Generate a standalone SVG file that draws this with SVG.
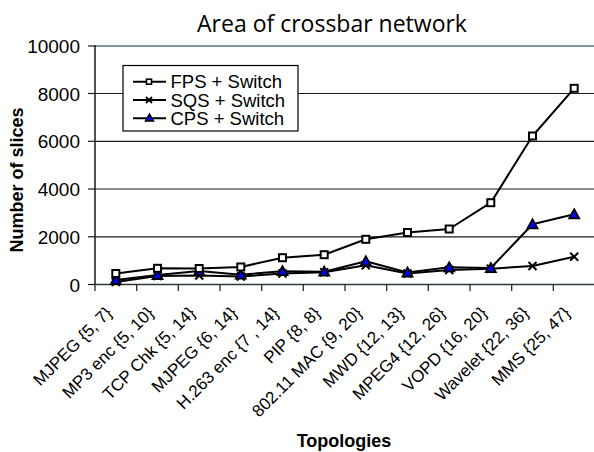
<svg xmlns="http://www.w3.org/2000/svg" width="594" height="452" viewBox="0 0 594 452">
<defs>
<style>
.grid{stroke:#1a1a1a;stroke-width:1.2}
.tick{stroke:#1a1a1a;stroke-width:1.2}
.ylab{font-family:"Liberation Sans",Arial,sans-serif;font-size:19px;fill:#000;text-anchor:end}
.xlab{font-family:"Liberation Sans",Arial,sans-serif;font-size:17px;fill:#000;text-anchor:end}
.atitle{font-family:"Liberation Sans",Arial,sans-serif;font-size:18px;font-weight:bold;fill:#000;text-anchor:middle}
.title{font-family:"Open Sans","Noto Sans",sans-serif;font-size:23px;fill:#000;text-anchor:middle}
.leg{font-family:"Liberation Sans",Arial,sans-serif;font-size:18.5px;fill:#000}
.series{fill:none;stroke:#000;stroke-width:2;stroke-linejoin:round}
</style>
<g id="msq"><rect x="-3.5" y="-3.5" width="7" height="7" fill="#fff" stroke="#000" stroke-width="2"/></g>
<g id="mx"><path d="M-4,-4L4,4M-4,4L4,-4" stroke="#000" stroke-width="2"/></g>
<g id="mtri"><path d="M0,-5L5,4L-5,4Z" fill="#0000ff" stroke="#000" stroke-width="1.8" stroke-linejoin="miter"/></g>
</defs>
<rect width="594" height="452" fill="#fff"/>

<text class="title" x="332" y="32">Area of crossbar network</text>

<g id="axes">
<line class="grid" x1="95" y1="93.5" x2="594" y2="93.5"/>
<line class="grid" x1="95" y1="141.3" x2="594" y2="141.3"/>
<line class="grid" x1="95" y1="189" x2="594" y2="189"/>
<line class="grid" x1="95" y1="236.8" x2="594" y2="236.8"/>
<line x1="95" y1="46" x2="594" y2="46" stroke="#7f9aa6" stroke-width="2"/>
<line x1="95" y1="45" x2="95" y2="285" stroke="#1a1a1a" stroke-width="1.5"/>
<line x1="94" y1="284.5" x2="594" y2="284.5" stroke="#2a3a40" stroke-width="1.6"/>
<g class="tick">
<line x1="88" y1="46" x2="95" y2="46"/>
<line x1="88" y1="93.5" x2="95" y2="93.5"/>
<line x1="88" y1="141.3" x2="95" y2="141.3"/>
<line x1="88" y1="189" x2="95" y2="189"/>
<line x1="88" y1="236.8" x2="95" y2="236.8"/>
<line x1="88" y1="284.5" x2="95" y2="284.5"/>
<line x1="95" y1="284.5" x2="95" y2="291"/>
<line x1="136.7" y1="284.5" x2="136.7" y2="291"/>
<line x1="178.3" y1="284.5" x2="178.3" y2="291"/>
<line x1="220" y1="284.5" x2="220" y2="291"/>
<line x1="261.7" y1="284.5" x2="261.7" y2="291"/>
<line x1="303.3" y1="284.5" x2="303.3" y2="291"/>
<line x1="345" y1="284.5" x2="345" y2="291"/>
<line x1="386.7" y1="284.5" x2="386.7" y2="291"/>
<line x1="428.3" y1="284.5" x2="428.3" y2="291"/>
<line x1="470" y1="284.5" x2="470" y2="291"/>
<line x1="511.7" y1="284.5" x2="511.7" y2="291"/>
<line x1="553.3" y1="284.5" x2="553.3" y2="291"/>
</g>
<text class="ylab" x="80" y="53">10000</text>
<text class="ylab" x="80" y="100.5">8000</text>
<text class="ylab" x="80" y="148.3">6000</text>
<text class="ylab" x="80" y="196">4000</text>
<text class="ylab" x="80" y="243.8">2000</text>
<text class="ylab" x="80" y="291.5">0</text>
<text class="atitle" transform="translate(23,180) rotate(-90)">Number of slices</text>
<text class="atitle" x="344" y="447">Topologies</text>
<g id="xlabels">
<text class="xlab" transform="translate(113,314) rotate(-45)">MJPEG {5, 7}</text>
<text class="xlab" transform="translate(154.7,314) rotate(-45)">MP3 enc {5, 10}</text>
<text class="xlab" transform="translate(196.3,314) rotate(-45)">TCP Chk {5, 14}</text>
<text class="xlab" transform="translate(238,314) rotate(-45)">MJPEG {6, 14}</text>
<text class="xlab" transform="translate(279.7,314) rotate(-45)">H.263 enc {7 , 14}</text>
<text class="xlab" transform="translate(321.3,314) rotate(-45)">PIP {8, 8}</text>
<text class="xlab" transform="translate(363,314) rotate(-45)">802.11 MAC {9, 20}</text>
<text class="xlab" transform="translate(404.7,314) rotate(-45)">MWD {12, 13}</text>
<text class="xlab" transform="translate(446.3,314) rotate(-45)">MPEG4 {12, 26}</text>
<text class="xlab" transform="translate(488,314) rotate(-45)">VOPD {16, 20}</text>
<text class="xlab" transform="translate(529.7,314) rotate(-45)">Wavelet {22, 36}</text>
<text class="xlab" transform="translate(571.3,314) rotate(-45)">MMS {25, 47}</text>
</g>
</g>

<g id="connectors">
<polyline id="sqs-line" class="series" points="115.8,282 157.5,276 199.2,275.5 240.8,276.5 282.5,273.5 324.2,272.3 365.8,265.3 407.5,273.5 449.2,270 490.8,268.7 532.5,266 574.2,256.7"/>
<polyline id="cps-line" class="series" points="115.8,280 157.5,275 199.2,271 240.8,274.7 282.5,271.2 324.2,271.7 365.8,261.3 407.5,272.5 449.2,267.3 490.8,268 532.5,224.3 574.2,214.3"/>
<polyline id="fps-line" class="series" points="115.8,273.5 157.5,268.3 199.2,268.5 240.8,267 282.5,257.7 324.2,254.7 365.8,239.3 407.5,232.5 449.2,229 490.8,202.7 532.5,136 574.2,88.3"/>
</g>

<g id="sqs-markers">
<use href="#mx" x="115.8" y="282"/><use href="#mx" x="157.5" y="276"/><use href="#mx" x="199.2" y="275.5"/><use href="#mx" x="240.8" y="276.5"/><use href="#mx" x="282.5" y="273.5"/><use href="#mx" x="324.2" y="272.3"/><use href="#mx" x="365.8" y="265.3"/><use href="#mx" x="407.5" y="273.5"/><use href="#mx" x="449.2" y="270"/><use href="#mx" x="490.8" y="268.7"/><use href="#mx" x="532.5" y="266"/><use href="#mx" x="574.2" y="256.7"/>
</g>
<g id="cps-markers">
<use href="#mtri" x="115.8" y="280"/><use href="#mtri" x="157.5" y="275"/><use href="#mtri" x="199.2" y="271"/><use href="#mtri" x="240.8" y="274.7"/><use href="#mtri" x="282.5" y="271.2"/><use href="#mtri" x="324.2" y="271.7"/><use href="#mtri" x="365.8" y="261.3"/><use href="#mtri" x="407.5" y="272.5"/><use href="#mtri" x="449.2" y="267.3"/><use href="#mtri" x="490.8" y="268"/><use href="#mtri" x="532.5" y="224.3"/><use href="#mtri" x="574.2" y="214.3"/>
</g>
<g id="fps-markers">
<use href="#msq" x="115.8" y="273.5"/><use href="#msq" x="157.5" y="268.3"/><use href="#msq" x="199.2" y="268.5"/><use href="#msq" x="240.8" y="267"/><use href="#msq" x="282.5" y="257.7"/><use href="#msq" x="324.2" y="254.7"/><use href="#msq" x="365.8" y="239.3"/><use href="#msq" x="407.5" y="232.5"/><use href="#msq" x="449.2" y="229"/><use href="#msq" x="490.8" y="202.7"/><use href="#msq" x="532.5" y="136"/><use href="#msq" x="574.2" y="88.3"/>
</g>

<g id="legend">
<rect x="123" y="65.5" width="175" height="65.5" fill="#fff" stroke="#000" stroke-width="1.2"/>
<line x1="133" y1="81.7" x2="166" y2="81.7" stroke="#000" stroke-width="2"/>
<rect x="146.5" y="79.2" width="5" height="5" fill="#fff" stroke="#000" stroke-width="1.6"/>
<line x1="133" y1="100" x2="166" y2="100" stroke="#000" stroke-width="2"/>
<path d="M146,97L152,103M146,103L152,97" stroke="#000" stroke-width="1.8"/>
<line x1="133" y1="118.3" x2="166" y2="118.3" stroke="#000" stroke-width="2"/>
<path d="M149.5,114L153.5,121L145.5,121Z" fill="#0000ff" stroke="#000" stroke-width="1.5"/>
<text class="leg" x="170.5" y="88.3">FPS + Switch</text>
<text class="leg" x="170.5" y="106.6">SQS + Switch</text>
<text class="leg" x="170.5" y="124.9">CPS + Switch</text>
</g>
</svg>
